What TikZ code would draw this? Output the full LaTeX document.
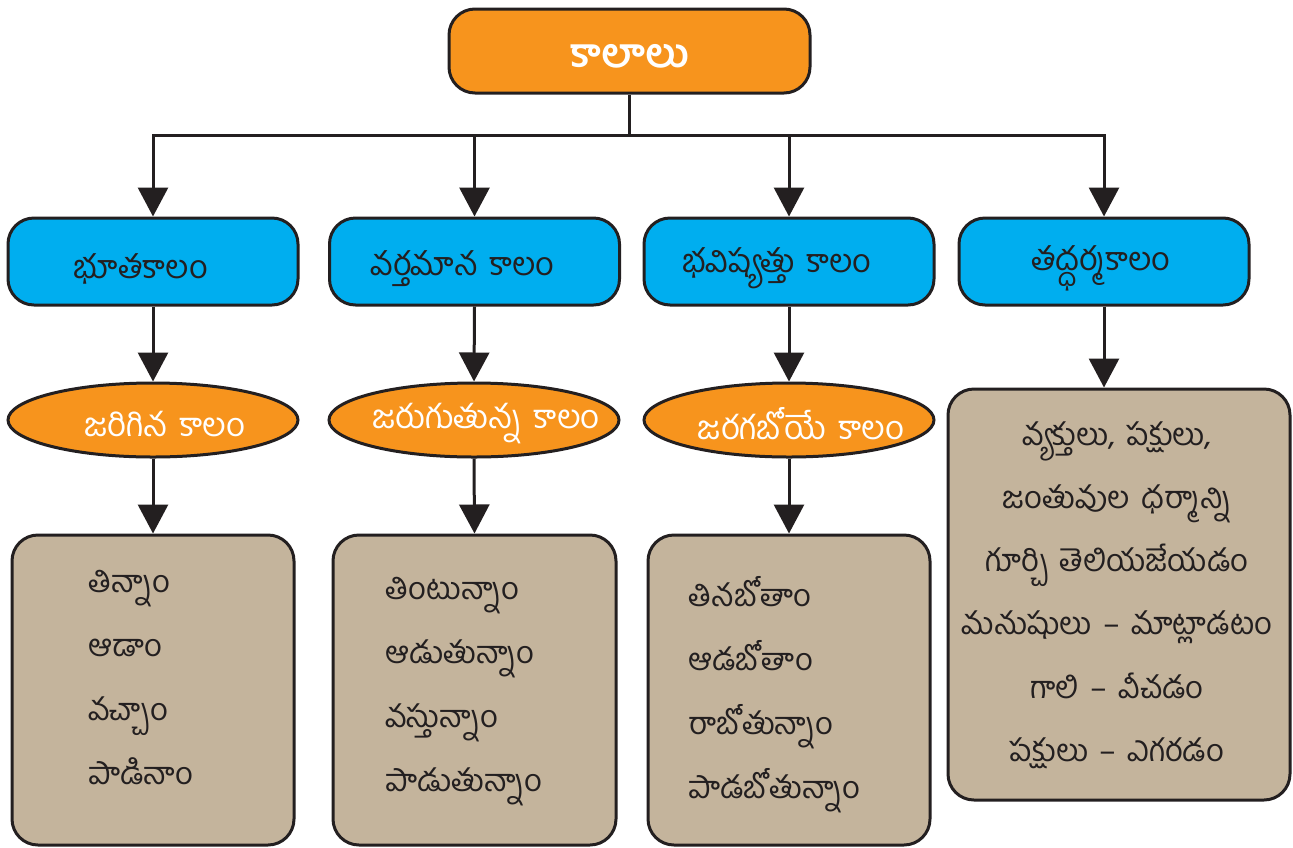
\documentclass[tikz,border=0pt]{standalone}
\usepackage{fontspec}
\newfontfamily\te[Script=Telugu,WordSpace=1.5]{Hind Guntur}
\usetikzlibrary{arrows.meta,shapes.geometric}
\definecolor{orng}{HTML}{F7941D}
\definecolor{blu}{HTML}{00AEEF}
\definecolor{tan}{HTML}{C4B49C}
\definecolor{ink}{HTML}{231F20}
\tikzset{
  boxline/.style={draw=ink,line width=3pt},
  topbox/.style={boxline,fill=orng,rounded corners=26pt,minimum width=361pt,minimum height=84pt,inner sep=0pt,text=white,font=\te\bfseries\fontsize{40}{46}\selectfont},
  catbox/.style={boxline,fill=blu,rounded corners=26pt,minimum width=290pt,minimum height=87pt,inner sep=0pt,text=ink,font=\te\fontsize{32.5}{38}\selectfont},
  ovalbox/.style={boxline,fill=orng,ellipse,minimum width=290pt,minimum height=74pt,inner xsep=-30pt,inner ysep=-12pt,text=white,font=\te\fontsize{33}{38}\selectfont},
  listbox/.style={boxline,fill=tan,rounded corners=26pt,inner sep=0pt},
  listtext/.style={align=left,text=ink,inner sep=0pt,font=\te\fontsize{31}{64}\selectfont},
  arr/.style={draw=ink,line width=3pt,-{Triangle[width=30pt,length=29pt]}},
  plain/.style={draw=ink,line width=3pt}
}
\newcommand{\dn}[2]{\raisebox{-#1pt}[\height][\depth]{#2}}
\newcommand{\lft}[1]{#1\hspace*{24pt}}
\newcommand{\rgt}[1]{\hspace*{24pt}#1}
\begin{document}
\begin{tikzpicture}[x=1pt,y=-1pt]
\useasboundingbox (0,0) rectangle (1293,847);
\node[topbox] (top) at (629.5,51) {\dn{5}{కాలాలు}};
\node[catbox] (b1) at (153,261.5) {\dn{7}{\lft{భూతకాలం}}};
\node[catbox] (b2) at (474.5,261.5) {\dn{7}{\lft{వర్తమాన కాలం}}};
\node[catbox] (b3) at (789,261.5) {\dn{7}{\lft{భవిష్యత్తు కాలం}}};
\node[catbox] (b4) at (1104,261.5) {\dn{7}{తద్ధర్మకాలం\hspace*{6pt}}};
\node[ovalbox] (o1) at (153,420) {\dn{4}{\rgt{జరిగిన కాలం}}};
\node[ovalbox] (o2) at (474,420) {\dn{4}{\rgt{జరుగుతున్న కాలం}}};
\node[ovalbox] (o3) at (789,420) {\dn{4}{\rgt{జరగబోయే కాలం}}};
\node[listbox,minimum width=282pt,minimum height=310pt] (l1) at (153,690) {};
\node[listbox,minimum width=283pt,minimum height=310pt] (l2) at (474.5,690) {};
\node[listbox,minimum width=282pt,minimum height=310pt] (l3) at (789,690) {};
\node[listbox,minimum width=342pt,minimum height=411pt] (l4) at (1119,594.5) {};
\node[listtext,anchor=north west] (t1) at (88,570) {తిన్నాం\\ఆడాం\\వచ్చాం\\పాడినాం};
\node[listtext,anchor=north west] (t2) at (385,577) {తింటున్నాం\\ఆడుతున్నాం\\వస్తున్నాం\\పాడుతున్నాం};
\node[listtext,anchor=north west] (t3) at (688,576) {తినబోతాం\\ఆడబోతాం\\రాబోతున్నాం\\పాడబోతున్నాం};
\node[listtext,align=center,font=\te\fontsize{31}{63.2}\selectfont] (t4) at (1117,595) {వ్యక్తులు, పక్షులు,\\జంతువుల ధర్మాన్ని\\గూర్చి తెలియజేయడం\\మనుషులు – మాట్లాడటం\\గాలి – వీచడం\\పక్షులు – ఎగరడం};
\coordinate (hub) at (629.5,135);
\draw[plain] (top.south) -- (hub);
\draw[arr] (hub) -| (b1.north);
\draw[arr] (hub) -| (b2.north);
\draw[arr] (hub) -| (b3.north);
\draw[arr] (hub) -| (b4.north);
\draw[arr] (b1.south) -- (o1.north);
\draw[arr] (b2.south) -- (o2.north);
\draw[arr] (b3.south) -- (o3.north);
\draw[arr] (b4.south) -- (b4.south |- l4.north);
\draw[arr] (o1.south) -- (l1.north);
\draw[arr] (o2.south) -- (l2.north);
\draw[arr] (o3.south) -- (l3.north);
\end{tikzpicture}
\end{document}
